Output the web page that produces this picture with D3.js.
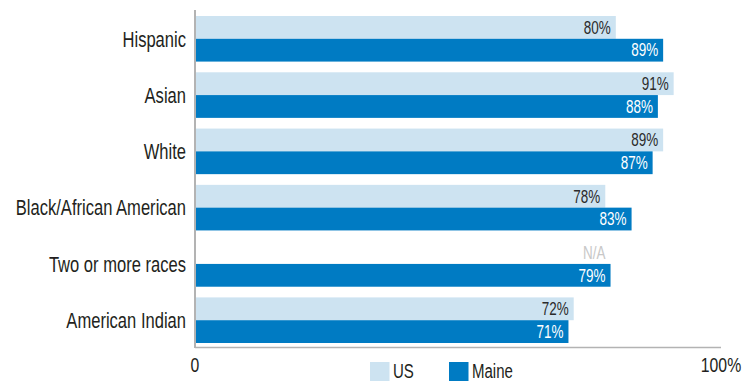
<!DOCTYPE html>
<html>
<head>
<meta charset="utf-8">
<script src="https://cdn.jsdelivr.net/npm/d3@7"></script>
<style>
  body { margin: 0; background: #fff; }
  svg { display: block; font-family: "Liberation Sans", Arial, sans-serif; }
</style>
</head>
<body>
<div id="chart"></div>
<script>
// data
let categories = ["Hispanic", "Asian", "White", "Black/African American", "Two or more races", "American Indian"];
let seriesNames = ["US", "Maine"];
let usValues = [80, 91, 89, 78, null, 72];
let maineValues = [89, 88, 87, 83, 79, 71];
let tickLabels = [[0, "0"], [100, "100%"]];

let width = 744, height = 381;
let margin = {left: 195, right: 23, top: 16, bottom: 38};
let colors = {US: "#cde3f1", Maine: "#007bc3"};
let narrow = 0.77; // squeeze Liberation Sans to look like a condensed face

let svg = d3.select("#chart").append("svg")
    .attr("width", width)
    .attr("height", height);

let x = d3.scaleLinear().domain([0, 100]).range([margin.left, width - margin.right]);
let y = d3.scaleBand().domain(categories).range([margin.top, height - margin.bottom]).paddingInner(0.19).paddingOuter(0);
let ySub = d3.scaleBand().domain(seriesNames).range([0, y.bandwidth()]);

let rows = categories.map(function(c, i){
    return {cat: c, US: usValues[i], Maine: maineValues[i]};
});

let g = svg.selectAll("g.row").data(rows).enter().append("g")
    .attr("class", "row")
    .attr("transform", function(d){ return "translate(0," + y(d.cat) + ")"; });

seriesNames.forEach(function(s){
    g.filter(function(d){ return d[s] != null; })
        .append("rect")
        .attr("x", x(0))
        .attr("y", ySub(s))
        .attr("width", function(d){ return x(d[s]) - x(0); })
        .attr("height", ySub.bandwidth())
        .attr("fill", colors[s]);

    g.append("text")
        .text(function(d){ return d[s] == null ? "N/A" : d[s] + "%"; })
        .attr("x", function(d){ return (d[s] == null ? x(d.Maine) : x(d[s])) - 5; })
        .attr("y", ySub(s) + ySub.bandwidth() / 2)
        .attr("dy", "0.36em")
        .attr("text-anchor", "end")
        .attr("font-size", 17.5)
        .attr("fill", function(d){ return d[s] == null ? "#c8c8c8" : (s == "US" ? "#2b2b2b" : "#ffffff"); });
});

// category labels
g.append("text")
    .text(function(d){ return d.cat; })
    .attr("x", x(0) - 9)
    .attr("y", y.bandwidth() / 2)
    .attr("dy", "0.36em")
    .attr("text-anchor", "end")
    .attr("font-size", 21.5)
    .attr("fill", "#231f20");

// axes lines
svg.append("line")
    .attr("x1", x(0)).attr("x2", x(0))
    .attr("y1", 10).attr("y2", 348)
    .attr("stroke", "#b3b3b3").attr("stroke-width", 2);
svg.append("line")
    .attr("x1", x(0)).attr("x2", x(100))
    .attr("y1", 347.5).attr("y2", 347.5)
    .attr("stroke", "#b3b3b3").attr("stroke-width", 1.5);

svg.selectAll("text.tick").data(tickLabels).enter().append("text")
    .attr("class", "tick")
    .text(function(d){ return d[1]; })
    .attr("x", function(d){ return x(d[0]); })
    .attr("y", 372)
    .attr("text-anchor", "middle")
    .attr("font-size", 20.5)
    .attr("fill", "#231f20");

// legend
let legendX = {US: 370, Maine: 449};
seriesNames.forEach(function(s){
    svg.append("rect")
        .attr("x", legendX[s]).attr("y", 362)
        .attr("width", 19.5).attr("height", 19)
        .attr("fill", colors[s]);
    svg.append("text")
        .text(s)
        .attr("x", legendX[s] + 23)
        .attr("y", 378)
        .attr("font-size", 19.5)
        .attr("fill", "#231f20");
});

// condense every text
svg.selectAll("text").each(function(){
    let w = this.getComputedTextLength();
    d3.select(this).attr("textLength", w * narrow).attr("lengthAdjust", "spacingAndGlyphs");
});
</script>
</body>
</html>
